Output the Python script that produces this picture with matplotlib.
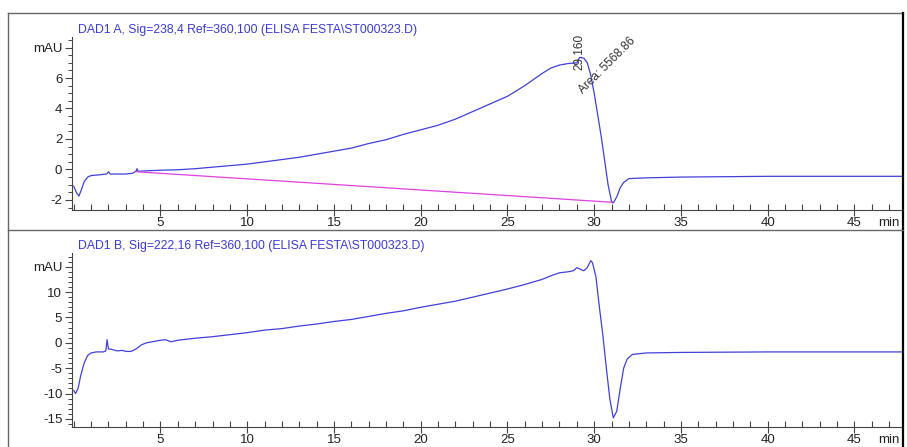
import numpy as np
import matplotlib.pyplot as plt
from matplotlib.ticker import MultipleLocator, FixedLocator, FixedFormatter
from matplotlib.lines import Line2D

plt.rcParams['font.family'] = ['Liberation Sans', 'DejaVu Sans']

# signal A (DAD1 A) - time in min, response in mAU
time_a = [0.0, 0.15, 0.3, 0.45, 0.6, 0.8, 1.0, 1.5, 1.9, 2.0, 2.1, 2.5, 3.0, 3.4,
          3.6, 3.65, 3.7, 4.0, 5.0, 6.0, 7.0, 8.0, 9.0, 10.0, 11.0, 12.0, 13.0,
          14.0, 15.0, 16.0, 17.0, 18.0, 19.0, 20.0, 21.0, 22.0, 23.0, 24.0, 25.0,
          26.0, 27.0, 27.5, 28.0, 28.5, 29.0, 29.16, 29.4, 29.6, 29.8, 30.0, 30.2,
          30.4, 30.6, 30.8, 31.0, 31.1, 31.3, 31.5, 31.7, 32.0, 33.0, 35.0, 40.0,
          45.0, 48.0]
sig_a = [-1.1, -1.5, -1.75, -1.3, -0.8, -0.5, -0.4, -0.35, -0.3, -0.15, -0.3, -0.3,
         -0.3, -0.25, -0.1, 0.05, -0.12, -0.1, -0.05, -0.02, 0.05, 0.15, 0.25, 0.35,
         0.5, 0.65, 0.8, 1.0, 1.2, 1.4, 1.7, 1.95, 2.3, 2.6, 2.9, 3.3, 3.8, 4.3, 4.8,
         5.5, 6.3, 6.65, 6.85, 6.95, 7.0, 7.35, 7.3, 7.0, 6.2, 5.0, 3.6, 2.2, 0.6,
         -1.0, -2.1, -2.2, -1.8, -1.2, -0.85, -0.6, -0.55, -0.5, -0.45, -0.45, -0.45]

# integration baseline of the peak
base_t = [3.6, 31.0]
base_v = [-0.15, -2.15]
peak_rt = 29.16
peak_label = "29.160"
area_label = "Area: 5568.86"

# signal B (DAD1 B)
time_b = [0.0, 0.1, 0.25, 0.4, 0.6, 0.8, 1.0, 1.3, 1.7, 1.85, 1.92, 2.0, 2.2, 2.5,
          2.8, 3.0, 3.3, 3.6, 3.9, 4.2, 5.0, 5.3, 5.6, 6.0, 7.0, 8.0, 9.0, 10.0,
          11.0, 12.0, 13.0, 14.0, 15.0, 16.0, 17.0, 18.0, 19.0, 20.0, 21.0, 22.0,
          23.0, 24.0, 25.0, 26.0, 27.0, 27.5, 28.0, 28.5, 28.8, 29.0, 29.2, 29.4,
          29.6, 29.8, 29.9, 30.1, 30.3, 30.5, 30.7, 30.9, 31.1, 31.3, 31.5, 31.7,
          31.9, 32.2, 33.0, 35.0, 40.0, 45.0, 48.0]
sig_b = [-9.4, -10.0, -9.0, -6.5, -4.0, -2.5, -2.0, -1.8, -1.8, -1.6, 0.6, -1.2,
         -1.3, -1.6, -1.5, -1.7, -1.7, -1.2, -0.4, 0.0, 0.5, 0.6, 0.2, 0.5, 0.9,
         1.2, 1.6, 2.0, 2.5, 2.8, 3.3, 3.7, 4.2, 4.6, 5.2, 5.8, 6.3, 7.0, 7.6, 8.2,
         9.0, 9.8, 10.6, 11.5, 12.5, 13.2, 13.8, 14.0, 14.2, 14.8, 14.5, 14.2, 14.8,
         16.2, 15.8, 13.0, 7.0, 1.5, -5.0, -11.0, -14.8, -13.5, -9.0, -5.0, -3.2,
         -2.3, -2.0, -1.9, -1.8, -1.8, -1.8]

title_a = "DAD1 A, Sig=238,4 Ref=360,100 (ELISA FESTA\\ST000323.D)"
title_b = "DAD1 B, Sig=222,16 Ref=360,100 (ELISA FESTA\\ST000323.D)"
yticks_a = [-2, 0, 2, 4, 6, 8]
yticks_b = [-15, -10, -5, 0, 5, 10, 15]
xticks = [5, 10, 15, 20, 25, 30, 35, 40, 45]

W, H = 907, 447
fig = plt.figure(figsize=(W / 100, H / 100), dpi=100)

line_col = '#4040da'
title_col = '#3a3ad8'
axis_col = '#444444'


def setup(ax, yticks, ylim, yminor, title):
    ax.set_xlim(-0.1, 47.8)
    ax.set_ylim(*ylim)
    for s in ['top', 'right']:
        ax.spines[s].set_visible(False)
    for s in ['left', 'bottom']:
        ax.spines[s].set_color(axis_col)
        ax.spines[s].set_linewidth(0.8)
    ax.xaxis.set_major_locator(FixedLocator(xticks))
    ax.xaxis.set_minor_locator(MultipleLocator(1))
    ax.yaxis.set_major_locator(FixedLocator(yticks))
    labels = [str(v) for v in yticks[:-1]] + ['mAU']
    ax.yaxis.set_major_formatter(FixedFormatter(labels))
    ax.yaxis.set_minor_locator(MultipleLocator(yminor))
    ax.tick_params(axis='x', which='major', direction='inout', length=8, width=0.8,
                   colors=axis_col, labelcolor='#222222', labelsize=9.5, pad=1)
    ax.tick_params(axis='x', which='minor', direction='in', length=4, width=0.8,
                   colors=axis_col)
    ax.tick_params(axis='y', which='major', direction='out', length=5, width=0.8,
                   colors=axis_col, labelcolor='#222222', labelsize=9.5, pad=2)
    ax.tick_params(axis='y', which='minor', direction='out', length=3, width=0.7,
                   colors=axis_col)
    ax.text(0.0075, 1.04, title, transform=ax.transAxes, color=title_col,
            fontsize=8.8, ha='left', va='center')
    ax.text(0.996, -0.075, 'min', transform=ax.transAxes, color='#222222',
            fontsize=9.5, ha='right', va='center')


# top panel
ax1 = fig.add_axes([72 / W, (H - 210) / H, (903 - 72) / W, 173 / H])
setup(ax1, yticks_a, (-2.66, 8.69), 0.5, title_a)
ax1.plot(time_a, sig_a, color=line_col, lw=0.9)
ax1.plot(base_t, base_v, color='#e040e0', lw=0.9)
ax1.text(peak_rt, 6.5, peak_label, rotation=90, fontsize=8.5, color='#333333',
         ha='center', va='bottom')
ax1.text(29.5, 4.8, area_label, rotation=45, rotation_mode='anchor', fontsize=8.6,
         color='#333333', ha='left', va='bottom')

# bottom panel
ax2 = fig.add_axes([72 / W, (H - 427) / H, (903 - 72) / W, 174 / H])
setup(ax2, yticks_b, (-16.6, 17.7), 1, title_b)
ax2.plot(time_b, sig_b, color=line_col, lw=0.9)

# outer frame and divider
frame_col = '#666666'
fig.add_artist(Line2D([8 / W, 8 / W], [0, (H - 13) / H], color=frame_col, lw=1))
fig.add_artist(Line2D([8 / W, 903 / W], [(H - 13) / H, (H - 13) / H], color=frame_col, lw=1))
fig.add_artist(Line2D([903 / W, 903 / W], [0, (H - 13) / H], color='black', lw=1.6))
fig.add_artist(Line2D([8 / W, 903 / W], [(H - 230) / H, (H - 230) / H], color=frame_col, lw=1))

fig.savefig('out.png', dpi=100)
